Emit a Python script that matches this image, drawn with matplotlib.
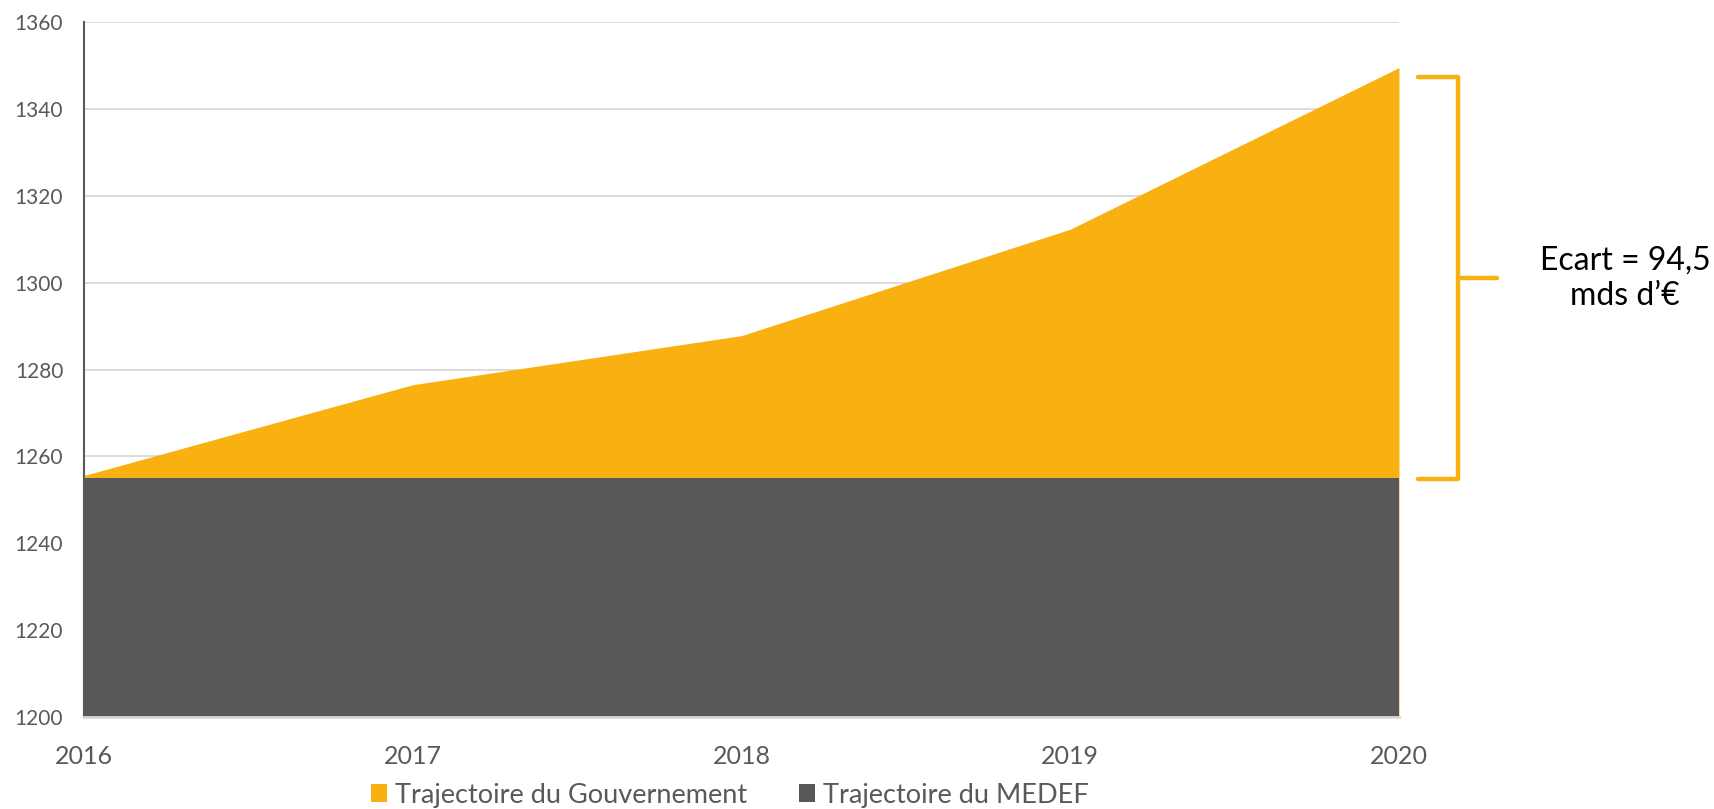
import matplotlib
matplotlib.use("Agg")
import matplotlib.pyplot as plt
import matplotlib.transforms as mtransforms
from matplotlib.patches import Patch

plt.rcParams['font.family'] = ['Lato', 'DejaVu Sans']

years = [2016, 2017, 2018, 2019, 2020]
gouvernement = [1255.6, 1276.5, 1287.8, 1312.3, 1349.5]
medef = [1255, 1255, 1255, 1255, 1255]
series_labels = ["Trajectoire du Gouvernement", "Trajectoire du MEDEF"]
yticks = [1200, 1220, 1240, 1260, 1280, 1300, 1320, 1340, 1360]
gap_text = "Ecart = 94,5\nmds d\u2019\u20ac"

c_orange = '#F9B112'
c_gray = '#58585A'
c_text = '#595959'
c_grid = '#D9D9D9'

fig = plt.figure(figsize=(17.15, 8.09), dpi=100)
W, H = 1715, 809
ax = fig.add_axes([84 / W, 1 - 717 / H, (1399 - 84) / W, (717 - 22) / H])

ax.fill_between(years, 1200, gouvernement, color=c_orange, lw=0, zorder=2)
ax.fill_between(years, 1200, medef, color=c_gray, lw=0, zorder=3)

ax.set_xlim(years[0], years[-1])
ax.set_ylim(yticks[0], yticks[-1])
ax.set_yticks(yticks)
ax.set_xticks(years)
ax.set_xticklabels([str(y) for y in years])

for y in yticks[1:]:
    ax.axhline(y, color=c_grid, lw=1.3, zorder=1)

for s in ['top', 'right']:
    ax.spines[s].set_visible(False)
ax.spines['left'].set_color(c_text)
ax.spines['left'].set_linewidth(1.5)
ax.spines['left'].set_zorder(5)
ax.spines['bottom'].set_color(c_grid)
ax.spines['bottom'].set_linewidth(2)
ax.spines['bottom'].set_zorder(5)

ax.tick_params(axis='y', length=0, pad=15, labelsize=15, labelcolor=c_text)
ax.tick_params(axis='x', length=0, pad=20, labelsize=18, labelcolor=c_text)

# bracket showing the gap
trans = mtransforms.blended_transform_factory(ax.transAxes, ax.transData)
x0, x1, x2 = 1.0144, 1.0449, 1.0745
ytop, ybot = gouvernement[-1] - 2.2, medef[-1] - 0.3
ymid = (ytop + ybot) / 2
ax.plot([x0, x1, x1, x0], [ytop, ytop, ybot, ybot], transform=trans,
        color=c_orange, lw=3.2, clip_on=False, solid_capstyle='round',
        solid_joinstyle='round', zorder=6)
ax.plot([x1, x2], [ymid, ymid], transform=trans, color=c_orange, lw=3.2,
        clip_on=False, solid_capstyle='round', zorder=6)
ax.text(1.172, ymid, gap_text, transform=trans, ha='center', va='center',
        fontsize=23, color='black', linespacing=1.2)

handles = [Patch(facecolor=c_orange, edgecolor='none'),
           Patch(facecolor=c_gray, edgecolor='none')]
fig.legend(handles, series_labels, loc='center', bbox_to_anchor=(0.4256, 1 - 795 / H),
           ncol=2, frameon=False, fontsize=19.5, labelcolor=c_text,
           handlelength=0.6, handleheight=0.6, handletextpad=0.3, columnspacing=1.9)

fig.savefig('out.png', dpi=100)
